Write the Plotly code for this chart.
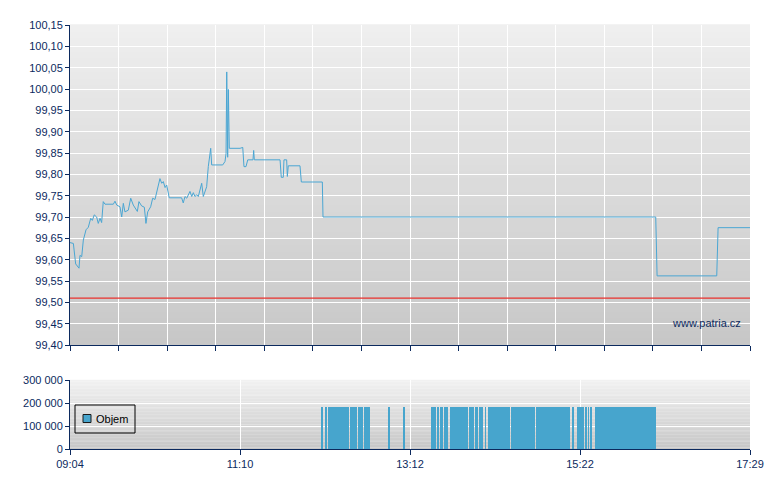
import plotly.graph_objects as go

# ---------------- data (minutes after 09:04) ----------------
price_min = [0, 2.5, 4.2, 6.7, 7.4, 8.7, 9.9, 11.9, 13.6, 15.4,
             16.6, 18.0, 19.8, 21.0, 22.3, 23.5, 24.7, 26.0, 32.2, 33.4,
             34.7, 37.1, 38.4, 39.6, 40.8, 43.3, 45.1, 47.0, 50.0, 51.2,
             53.2, 55.2, 56.4, 57.7, 59.9, 61.4, 63.1, 64.8, 66.8, 68.1,
             69.3, 70.6, 71.8, 73.7, 82.9, 84.1, 85.4, 86.7, 89.1, 90.4,
             91.6, 92.8, 94.1, 95.3, 97.8, 99.0, 101.5, 102.7, 104.5, 105.2,
             113.4, 115.1, 115.9, 116.4, 117.1, 117.6, 118.3, 126.3, 128.3, 129.2,
             130.7, 132.0, 135.9, 136.4, 136.9, 156.0, 156.9, 158.4, 158.9, 160.9,
             161.4, 162.1, 170.8, 171.8, 187.4, 187.9, 435.0, 436.0, 480.3, 481.3,
             505]
price_val = [99.64, 99.638, 99.59, 99.58, 99.61, 99.607, 99.646, 99.67, 99.676, 99.697,
             99.692, 99.705, 99.70, 99.685, 99.697, 99.687, 99.736, 99.73, 99.73, 99.737,
             99.728, 99.724, 99.70, 99.732, 99.712, 99.716, 99.744, 99.728, 99.713, 99.736,
             99.726, 99.723, 99.685, 99.712, 99.724, 99.744, 99.741, 99.765, 99.79, 99.779,
             99.783, 99.769, 99.775, 99.745, 99.745, 99.733, 99.748, 99.744, 99.76, 99.748,
             99.757, 99.748, 99.752, 99.748, 99.779, 99.748, 99.771, 99.818, 99.861, 99.822,
             99.822, 99.83, 99.849, 100.04, 99.84, 99.999, 99.861, 99.861, 99.863, 99.818,
             99.818, 99.834, 99.834, 99.856, 99.834, 99.834, 99.793, 99.793, 99.834, 99.834,
             99.795, 99.82, 99.82, 99.782, 99.782, 99.70, 99.70, 99.562, 99.562, 99.675,
             99.675]
prev_close = 99.51

vol_start = [187.1, 190.1, 191.6, 198.1, 199.0, 208.0, 213.9, 216.1, 218.3, 236.2,
             248.0, 268.8, 270.3, 272.6, 274.8, 277.8, 282.2, 296.3, 300.8, 303.7,
             308.2, 310.4, 327.5, 346.3, 373.5, 376.5, 383.0, 384.7, 386.4, 389.9]
vol_end = [187.9, 190.9, 197.3, 198.5, 207.0, 213.1, 215.1, 217.4, 222.8, 237.6,
           248.8, 269.6, 271.6, 273.8, 276.8, 280.7, 295.4, 299.8, 303.0, 306.9,
           308.9, 326.5, 345.3, 371.3, 374.3, 381.7, 383.7, 385.4, 387.4, 435.2]
vol_val = [182000] * len(vol_start)

session_len = 505
bottom_tick_labels = ["09:04", "11:10", "13:12", "15:22", "17:29"]

# ---------------- styling ----------------
NAVY = "#0c2a5e"
LINE_C = "#4aa6d3"
BAR_C = "#47a5cd"
FONT = "Liberation Sans, Arial, sans-serif"

fig = go.Figure()
fig.add_trace(go.Scatter(x=price_min, y=price_val, mode="lines",
                         line=dict(color=LINE_C, width=1),
                         xaxis="x", yaxis="y", showlegend=False, hoverinfo="skip"))
fig.add_trace(go.Scatter(x=[0, session_len], y=[prev_close, prev_close], mode="lines",
                         line=dict(color="#e8302c", width=1.2),
                         xaxis="x", yaxis="y", showlegend=False, hoverinfo="skip"))
centers = [(s + e) / 2 for s, e in zip(vol_start, vol_end)]
widths = [e - s for s, e in zip(vol_start, vol_end)]
fig.add_trace(go.Bar(x=centers, y=vol_val, width=widths, name="Objem",
                     marker=dict(color=BAR_C, line=dict(width=0)),
                     xaxis="x2", yaxis="y2", showlegend=False, hoverinfo="skip"))

# gradient backgrounds
shapes = []
N = 48
for yref, c_top, c_bot in [("y domain", 239, 199), ("y2 domain", 241, 199)]:
    xref = "x domain" if yref == "y domain" else "x2 domain"
    for i in range(N):
        t = (i + 0.5) / N
        c = round(c_bot + (c_top - c_bot) * t)
        shapes.append(dict(type="rect", xref=xref, yref=yref, x0=0, x1=1,
                           y0=i / N, y1=(i + 1) / N + 0.002, line=dict(width=0),
                           fillcolor=f"rgb({c},{c},{c})", layer="below"))

# legend box (drawn manually to match the compact original)
shapes.append(dict(type="rect", xref="x2 domain", yref="y2 domain",
                   x0=5 / 680, x1=65 / 680, y0=(449 - 433) / 69, y1=(449 - 405) / 69,
                   line=dict(color="black", width=1), fillcolor="rgba(0,0,0,0)", layer="above"))
shapes.append(dict(type="rect", xref="x2 domain", yref="y2 domain",
                   x0=13 / 680, x1=21 / 680, y0=(449 - 422.5) / 69, y1=(449 - 414.5) / 69,
                   line=dict(color="#1a1a1a", width=1), fillcolor=BAR_C, layer="above"))

top_dom = [(449 - 345) / 424, 1]
bot_dom = [0, (449 - 380) / 424]

axis_common = dict(showline=True, linecolor=NAVY, linewidth=1, ticks="outside",
                   tickcolor=NAVY, zeroline=False, showgrid=True, gridcolor="white",
                   gridwidth=1, automargin=False,
                   tickfont=dict(color=NAVY, size=11, family=FONT))

# the page body adds an 8px margin, so the figure is 764x474 and offsets are reduced by 8
fig.update_layout(
    width=764, height=474,
    margin=dict(l=62, r=22, t=17, b=33, autoexpand=False),
    paper_bgcolor="white", plot_bgcolor="rgba(0,0,0,0)",
    separators=", ",
    font=dict(family=FONT, size=11, color=NAVY),
    shapes=shapes,
    bargap=0,
    showlegend=False,
    xaxis=dict(domain=[0, 1], anchor="y", range=[0, session_len],
               tickvals=[session_len * i / 14 for i in range(15)],
               showticklabels=False, ticklen=5, **axis_common),
    yaxis=dict(domain=top_dom, anchor="x", range=[99.40, 100.15], tick0=99.40,
               dtick=0.05, tickformat=".2f", ticklen=4, **axis_common),
    xaxis2=dict(domain=[0, 1], anchor="y2", range=[0, session_len],
                tickvals=[session_len * i / 4 for i in range(5)],
                ticktext=bottom_tick_labels, ticklen=5, **axis_common),
    yaxis2=dict(domain=bot_dom, anchor="x2", range=[0, 300000], dtick=100000,
                tickformat=",d", ticklen=4, **axis_common),
    annotations=[
        dict(text="www.patria.cz", xref="x", yref="y",
             x=500, y=99.452, xanchor="right", yanchor="middle",
             showarrow=False, font=dict(color=NAVY, size=11, family=FONT)),
        dict(text="Objem", xref="x2 domain", yref="y2 domain",
             x=(94 - 70) / 680, y=(449 - 419) / 69, xanchor="left", yanchor="middle",
             showarrow=False, font=dict(color="black", size=11, family=FONT)),
    ],
)

fig.write_html("out.html")
